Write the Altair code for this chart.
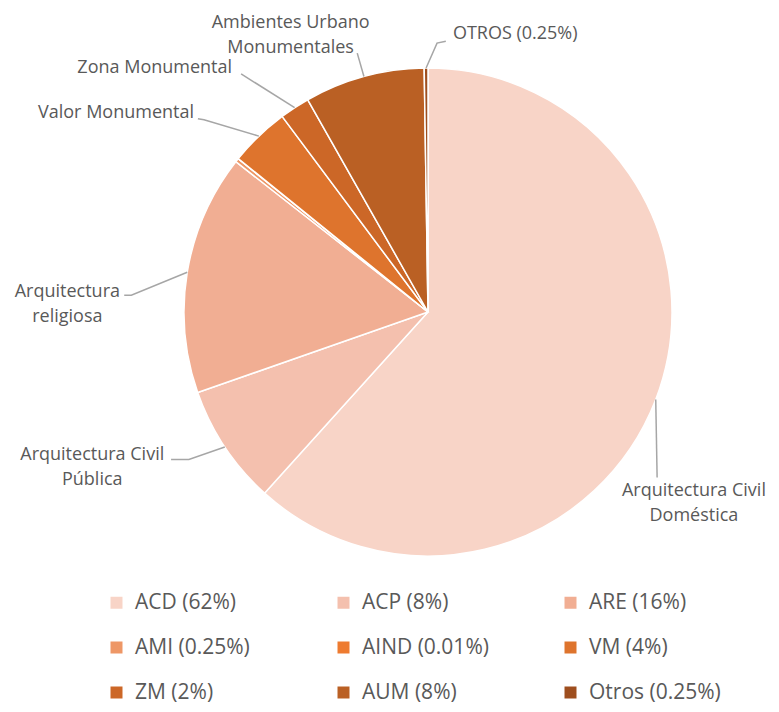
import math
import altair as alt
import pandas as pd

# ---- data ----
codes = ["ACD", "ACP", "ARE", "AMI", "AIND", "VM", "ZM", "AUM", "Otros"]
shares = [62, 8, 16, 0.25, 0.01, 4, 2, 8, 0.25]
legend_labels = ["ACD (62%)", "ACP (8%)", "ARE (16%)", "AMI (0.25%)", "AIND (0.01%)",
                 "VM (4%)", "ZM (2%)", "AUM (8%)", "Otros (0.25%)"]
colors = ["#F8D4C7", "#F4C0AE", "#F1AE93", "#EE9766", "#EE7B30",
          "#DE742D", "#CC6727", "#BA6024", "#9E4E1E"]

# slice callouts
label_codes = ["ACD", "ACP", "ARE", "VM", "ZM", "AUM", "Otros"]
label_texts = ["Arquitectura Civil\nDoméstica", "Arquitectura Civil\nPública",
               "Arquitectura\nreligiosa", "Valor Monumental", "Zona Monumental",
               "Ambientes Urbano\nMonumentales", "OTROS (0.25%)"]

# ---- layout (unit = pie radius) ----
R = 244
W, H = 763, 696
CX, CY = 420, 304
label_x = [1.090, -1.376, -1.478, -0.959, -0.803, -0.563, 0.102]
label_y = [-0.734, -0.586, 0.082, 0.816, 1.000, 1.183, 1.139]
label_align = ["center", "center", "center", "right", "right", "center", "left"]
# leader line bend points after the slice edge point
leader_pts = [
    [(0.939, -0.678)],
    [(-0.980, -0.604), (-1.053, -0.604)],
    [(-1.216, 0.069), (-1.245, 0.069)],
    [(-0.918, 0.788), (-0.943, 0.792)],
    [(-0.766, 0.976)],
    [(-0.290, 1.061)],
    [(0.037, 1.102), (0.073, 1.110)],
]

pie_df = pd.DataFrame({"code": codes, "share": shares, "label": legend_labels,
                       "idx": list(range(len(codes)))})

total = sum(shares)
mid = {}
cum = 0.0
for c, s in zip(codes, shares):
    mid[c] = (cum + s / 2) / total * 2 * math.pi
    cum += s

rows = []
for c, pts in zip(label_codes, leader_pts):
    a = mid[c]
    rows.append({"g": c, "o": 0, "u": math.sin(a), "v": math.cos(a)})
    for k, (u, v) in enumerate(pts):
        rows.append({"g": c, "o": k + 1, "u": u, "v": v})
line_df = pd.DataFrame(rows)

text_df = pd.DataFrame({"g": label_codes, "t": label_texts, "u": label_x,
                        "v": label_y, "al": label_align})

xs = alt.Scale(domain=[-CX / R, (W - CX) / R], range=[0, W], nice=False, zero=False)
ys = alt.Scale(domain=[-(H - CY) / R, CY / R], range=[H, 0], nice=False, zero=False)

FONT = "Open Sans"

pie = alt.Chart(pie_df).mark_arc(outerRadius=R, stroke="white", strokeWidth=1.5).encode(
    theta=alt.Theta("share:Q", stack=True),
    order=alt.Order("idx:Q", sort="ascending"),
    color=alt.Color("label:N", sort=legend_labels,
                    scale=alt.Scale(domain=legend_labels, range=colors),
                    legend=alt.Legend(orient="none", legendX=98, legendY=584, columns=3,
                                      direction="horizontal",
                                      title=None, symbolType="square", symbolSize=144,
                                      symbolStrokeWidth=0, labelFont=FONT,
                                      labelFontSize=21, labelColor="#595959",
                                      labelOffset=8, rowPadding=23, columnPadding=66,
                                      gridAlign="all", labelLimit=300)),
    x=alt.value(CX),
    y=alt.value(CY),
)

lines = alt.Chart(line_df).mark_line(color="#A6A6A6", strokeWidth=1.5).encode(
    x=alt.X("u:Q", scale=xs, axis=None),
    y=alt.Y("v:Q", scale=ys, axis=None),
    detail="g:N",
    order="o:Q",
)

def txt(align):
    return alt.Chart(text_df).transform_filter(alt.datum.al == align).mark_text(
        align=align, baseline="middle", font=FONT, fontSize=18, color="#595959",
        lineBreak="\n", lineHeight=25,
    ).encode(
        x=alt.X("u:Q", scale=xs, axis=None),
        y=alt.Y("v:Q", scale=ys, axis=None),
        text="t:N",
    )

chart = alt.layer(pie, lines, txt("center"), txt("right"), txt("left")).properties(
    width=W, height=H, autosize=alt.AutoSizeParams(type="none"), padding=0,
).configure_view(stroke=None)

chart.save("out.html", embed_options={"renderer": "svg", "actions": False})
